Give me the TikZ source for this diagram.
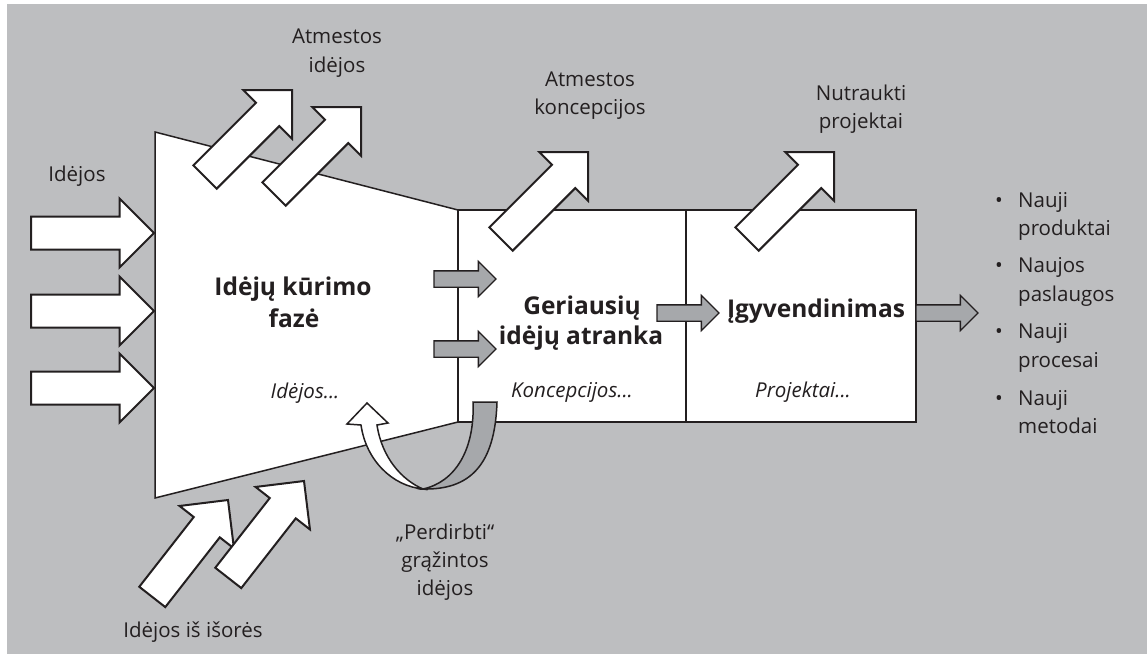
\documentclass[tikz,border=0pt]{standalone}
\usepackage{fontspec}
\setmainfont{Open Sans}
\usetikzlibrary{shapes.arrows}
\definecolor{bg}{RGB}{189,190,192}
\definecolor{midgray}{RGB}{166,168,171}
\definecolor{ink}{RGB}{35,31,32}
\begin{document}
\begin{tikzpicture}[x=1pt,y=-1pt,
  bigarrow/.style={single arrow, draw=ink, fill=white, line width=2pt,
    minimum height=123pt, minimum width=0pt, single arrow head extend=18pt,
    inner xsep=0pt, inner ysep=15.5pt, outer sep=0pt, anchor=tip},
  smallarrow/.style={single arrow, draw=ink, fill=midgray, line width=1.3pt,
    minimum height=62pt, minimum width=0pt, single arrow head extend=9.5pt,
    inner xsep=0pt, inner ysep=7.5pt, outer sep=0pt, anchor=tip},
  stagebox/.style={draw=ink, fill=white, line width=2pt, inner sep=0pt, outer sep=0pt, anchor=north west},
  lbl/.style={font=\fontsize{20.5}{25}\selectfont, text=ink, inner sep=0pt, anchor=base},
  boldlbl/.style={font=\fontsize{24.5}{30}\selectfont\bfseries, text=ink, inner sep=0pt, anchor=base},
  itlbl/.style={font=\fontsize{20.5}{25}\selectfont\itshape, text=ink, inner sep=0pt, anchor=base},
  bul/.style={font=\fontsize{20.5}{25}\selectfont, text=ink, inner sep=0pt, anchor=base west}
]
\useasboundingbox (0,0) rectangle (1147,654);
\fill[bg] (7,4) rectangle (1147,654);

% funnel
\draw[draw=ink, fill=white, line width=1.5pt] (155,132) -- (458,210) -- (458,422) -- (155,498) -- cycle;

% boxes
\node[stagebox, minimum width=228pt, minimum height=212pt] (box1) at (458,210) {};
\node[stagebox, minimum width=230pt, minimum height=212pt] (box2) at (686,210) {};

% box texts
\node[boldlbl] (f1) at (293,295) {Idėjų kūrimo};
\node[boldlbl] (f2) at (294,327) {fazė};
\node[itlbl] (f3) at (305,398) {Idėjos...};
\node[boldlbl] (g1) at (582,314) {Geriausių};
\node[boldlbl] (g2) at (581,344) {idėjų atranka};
\node[itlbl] (g3) at (572,397) {Koncepcijos...};
\node[boldlbl] (p1) at (816,317) {Įgyvendinimas};
\node[itlbl] (p2) at (803,397) {Projektai...};

% input arrows
\node[bigarrow] (in1) at (154,233) {};
\node[bigarrow] (in2) at (154,311) {};
\node[bigarrow] (in3) at (154,388) {};
\node[lbl] (inl) at (77,181) {Idėjos};

% rejected ideas
\node[bigarrow, rotate=45] (ri1) at (292,90) {};
\node[bigarrow, rotate=45] (ri2) at (361,107) {};
\node[lbl] (ril1) at (337,43) {Atmestos};
\node[lbl] (ril2) at (337,72) {idėjos};

% rejected concepts
\node[bigarrow, rotate=45] (rc) at (588,152) {};
\node[lbl] (rcl1) at (590,86) {Atmestos};
\node[lbl] (rcl2) at (590,114) {koncepcijos};

% cancelled projects
\node[bigarrow, rotate=45] (cp) at (834,152) {};
\node[lbl] (cpl1) at (861,100) {Nutraukti};
\node[lbl] (cpl2) at (861,128) {projektai};

% external ideas
\node[bigarrow, rotate=52] (ex1) at (228,500) {};
\node[bigarrow, rotate=52] (ex2) at (304,481) {};
\node[lbl] (exl) at (193,637) {Idėjos iš išorės};

% gray flow arrows
\node[smallarrow] (ga1) at (496,279) {};
\node[smallarrow] (ga2) at (496,349) {};
\node[smallarrow] (ga3) at (719,313) {};
\node[smallarrow] (ga4) at (978,313) {};

% recycle arrows
\draw[draw=ink, fill=midgray, line width=1.5pt] (473,402) -- (497,402)
  .. controls (495,465) and (470,490) .. (423,489)
  .. controls (455,482) and (475,450) .. (473,402) -- cycle;
\draw[draw=ink, fill=white, line width=1.5pt] (423,489)
  .. controls (392,486) and (366,460) .. (361,425) -- (347,424) -- (367,403) -- (388,423) -- (377,425)
  .. controls (382,458) and (402,480) .. (423,489) -- cycle;
\node[lbl] (rl1) at (445,539) {„Perdirbti“};
\node[lbl] (rl2) at (445,567) {grąžintos};
\node[lbl] (rl3) at (445,595) {idėjos};

% outcomes
\node[lbl] (b1) at (999,207) {•};
\node[bul] (o1a) at (1018,207) {Nauji};
\node[bul] (o1b) at (1018,235) {produktai};
\node[lbl] (b2) at (999,272) {•};
\node[bul] (o2a) at (1018,272) {Naujos};
\node[bul] (o2b) at (1018,301) {paslaugos};
\node[lbl] (b3) at (999,338) {•};
\node[bul] (o3a) at (1018,338) {Nauji};
\node[bul] (o3b) at (1018,367) {procesai};
\node[lbl] (b4) at (999,405) {•};
\node[bul] (o4a) at (1018,405) {Nauji};
\node[bul] (o4b) at (1018,433) {metodai};
\end{tikzpicture}
\end{document}
